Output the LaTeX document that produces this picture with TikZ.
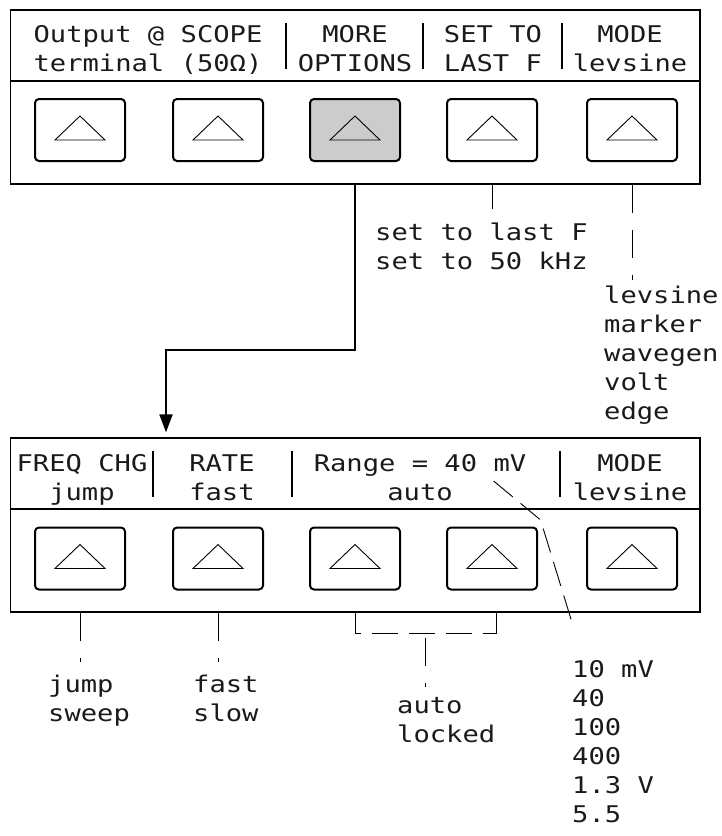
\documentclass[tikz,border=0pt]{standalone}
\usepackage{fontspec}
\usepackage{tikz}
\usetikzlibrary{arrows.meta, positioning, calc}
\newfontfamily\lcdfont[FakeStretch=1.18]{DejaVu Sans Mono}
\definecolor{keygray}{HTML}{CCCCCC}
\definecolor{lcdink}{HTML}{1A1A1A}
\tikzset{
  >=Latex,
  lcd/.style={font=\lcdfont\fontsize{23}{29}\selectfont, text=lcdink,
    anchor=base, inner sep=0pt},
  panel/.style={draw, line width=1.3pt, minimum width=689.3pt,
    minimum height=174pt, inner sep=0pt},
  keybtn/.style={draw, line width=2pt, rounded corners=4pt,
    minimum width=90pt, minimum height=62pt, inner sep=0pt},
  tri/.style={line width=0.9pt},
  sepbar/.style={line width=2.2pt},
  lead/.style={line width=0.9pt},
  dashlead/.style={line width=0.9pt, dash pattern=on 28pt off 17pt},
  diag/.style={line width=0.9pt, dash pattern=on 25pt off 10pt},
  flow/.style={line width=2pt, -{Triangle[length=18pt, width=13pt]}}
}

\begin{document}
\begin{tikzpicture}[x=1pt, y=-1pt]
  \useasboundingbox (0,0) rectangle (721,836);

  % upper softkey panel
  \node[panel] (top) at (355.35,97) {};
  \draw[line width=1.3pt] (top.west |- 0,81) -- (top.east |- 0,81);
  \foreach \n/\x/\f in {t1/80/white, t2/218/white, t3/355/keygray,
                         t4/492/white, t5/632/white}
    \node[keybtn, fill=\f] (\n) at (\x,130) {};
  \foreach \x in {286,423,562}
    \draw[sepbar] (\x,23) -- (\x,69);
  \foreach \n/\x/\a/\b in {out/148/{Output @ SCOPE}/{terminal (50Ω)},
      more/355/{MORE}/{OPTIONS}, setf/493/{SET TO}/{LAST F},
      tmode/630/{MODE}/{levsine}} {
    \node[lcd] (\n1) at (\x,42) {\a};
    \node[lcd] (\n2) at (\x,71) {\b};
  }

  % lower softkey panel
  \node[panel] (low) at (355.35,525) {};
  \draw[line width=1.3pt] (low.west |- 0,509) -- (low.east |- 0,509);
  \foreach \n/\x in {b1/80, b2/218, b3/355, b4/492, b5/632}
    \node[keybtn, fill=white] (\n) at (\x,558.5) {};
  \foreach \x in {153,292,560}
    \draw[sepbar] (\x,451) -- (\x,497);
  \foreach \n/\x/\a/\b in {freq/82/{FREQ CHG}/{jump},
      rate/222/{RATE}/{fast}, rng/420/{Range = 40 mV}/{auto},
      lmode/630/{MODE}/{levsine}} {
    \node[lcd] (\n1) at (\x,471) {\a};
    \node[lcd] (\n2) at (\x,500) {\b};
  }

  % arrow marks on the keys
  \foreach \n in {t1,t2,t3,t4,t5,b1,b2,b3,b4,b5}
    \draw[tri] ($(\n.center)+(0,-14)$) -- ++(25,24) -- ++(-50,0) -- cycle;

  % choice lists
  \node[lcd, anchor=base west] (last1) at (375,240) {set to last F};
  \node[lcd, anchor=base west] (last2) at (375,269) {set to 50 kHz};
  \foreach \t [count=\k] in {levsine,marker,wavegen,volt,edge}
    \node[lcd, anchor=base west] (lev\k) at (604,{303+29*(\k-1)}) {\t};
  \node[lcd, anchor=base west] (jmp1) at (48,692) {jump};
  \node[lcd, anchor=base west] (jmp2) at (48,721) {sweep};
  \node[lcd, anchor=base west] (spd1) at (193,692) {fast};
  \node[lcd, anchor=base west] (spd2) at (193,721) {slow};
  \node[lcd, anchor=base west] (lock1) at (397,713) {auto};
  \node[lcd, anchor=base west] (lock2) at (397,742) {locked};
  \foreach \t [count=\k] in {10 mV,40,100,400,1.3 V,5.5}
    \node[lcd, anchor=base west] (volt\k) at (572,{677+29*(\k-1)}) {\t};

  % connectors
  \coordinate (bend) at (166,350);
  \draw[flow, shorten >=5pt] (top.south -| t3) |- (bend) -- (low.north -| bend);
  \draw[lead, shorten >=13pt] (top.south -| t4) -- (last1.north -| t4);
  \draw[dashlead, shorten >=5pt] (top.south -| t5) -- (lev1.north -| t5);
  \draw[dashlead, shorten >=12pt] (low.south -| b1) -- (jmp1.north -| b1);
  \draw[dashlead, shorten >=12pt] (low.south -| b2) -- (spd1.north -| b2);

  \coordinate (brL) at (low.south -| b3);
  \coordinate (brR) at ([xshift=4pt]low.south -| b4);
  \draw[lead] (brL) -- ++(0,21) coordinate (brLb);
  \draw[lead] (brR) -- ++(0,21) coordinate (brRb);
  \draw[lead, dash pattern=on 26pt off 11pt, dash phase=20pt] (brLb) -- (brRb);
  \coordinate (brM) at ($(brLb)!0.5!(brRb)$);
  \draw[dashlead, shorten <=4pt, shorten >=10pt] (brM) -- (lock1.north -| brM);

  \coordinate (rngtip) at ($(rng1.base west)+(180,10)$);
  \coordinate (rngbend) at ($(rngtip)+(47,39)$);
  \coordinate (rngend) at ($(volt1.north west)+(1,-34)$);
  \draw[diag] (rngtip) -- (rngbend) -- (rngend);
\end{tikzpicture}
\end{document}
